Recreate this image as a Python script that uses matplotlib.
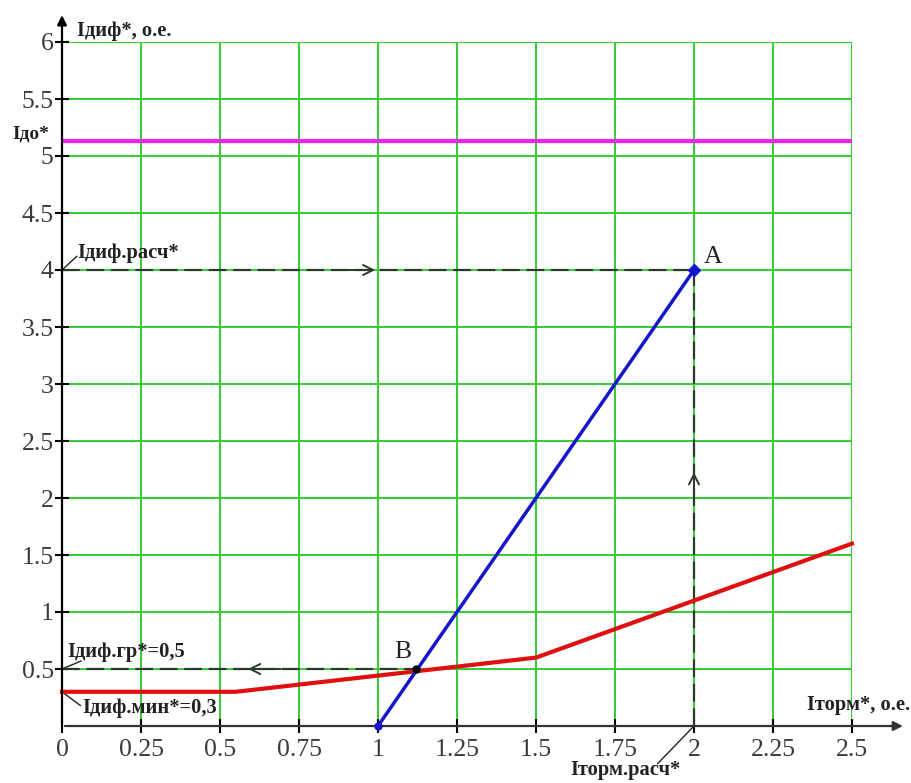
import matplotlib
matplotlib.use("Agg")
import matplotlib.pyplot as plt
import numpy as np

# ---- data ----
red_x = [0.0, 0.55, 1.5, 2.5]
red_y = [0.3, 0.3, 0.6, 1.6]
blue_x = [1.0, 2.0]
blue_y = [0.0, 4.0]
ido_level = 5.13
point_A = (2.0, 4.0)
point_B = (1.12, 0.5)
x_ticks = [0, 0.25, 0.5, 0.75, 1, 1.25, 1.5, 1.75, 2, 2.25, 2.5]
x_labels = ["0", "0.25", "0.5", "0.75", "1", "1.25", "1.5", "1.75", "2", "2.25", "2.5"]
y_ticks = [0.5, 1, 1.5, 2, 2.5, 3, 3.5, 4, 4.5, 5, 5.5, 6]
y_labels = ["0.5", "1", "1.5", "2", "2.5", "3", "3.5", "4", "4.5", "5", "5.5", "6"]

serif = ["Liberation Serif", "DejaVu Serif"]

fig = plt.figure(figsize=(9.12, 7.83), dpi=100)
ax = fig.add_axes([62/912, 1-726/783, (852-62)/912, (726-42)/783])
ax.set_xlim(0, 2.5)
ax.set_ylim(0, 6)

# grid
for xv in x_ticks:
    ax.axvline(xv, color="#33cc33", lw=1.4, zorder=1)
for yv in y_ticks:
    ax.axhline(yv, color="#33cc33", lw=1.4, zorder=1)

for s in ["top", "right", "left", "bottom"]:
    ax.spines[s].set_visible(False)

ax.set_xticks(x_ticks)
ax.set_xticklabels(x_labels, fontfamily=serif, fontsize=18.5, color="#3a3a3a")
ax.set_yticks(y_ticks)
ax.set_yticklabels(y_labels, fontfamily=serif, fontsize=18.5, color="#3a3a3a")
ax.tick_params(direction="inout", length=10, width=1.5, color="black")
ax.tick_params(axis="y", pad=1)
ax.tick_params(axis="x", pad=4)

# axes with arrows
ax.annotate("", xy=(0, 6.26), xytext=(0, 0), xycoords="data",
            arrowprops=dict(arrowstyle="-|>", color="black", lw=1.6, mutation_scale=14),
            annotation_clip=False, zorder=6)
ax.annotate("", xy=(2.67, 0), xytext=(0, 0), xycoords="data",
            arrowprops=dict(arrowstyle="-|>", color="#333333", lw=1.6, mutation_scale=14),
            annotation_clip=False, zorder=6)

# magenta level
ax.plot([0, 2.5], [ido_level, ido_level], color="#ee22ee", lw=3, zorder=3)

# dashed construction lines
dcol = "#2a3a2a"
ax.plot([0, point_A[0]], [point_A[1], point_A[1]], color=dcol, lw=1.6, ls=(0, (8, 3)), zorder=3)
ax.plot([point_A[0], point_A[0]], [0, point_A[1]], color=dcol, lw=1.6, ls=(0, (8, 3)), zorder=3)
ax.plot([0, point_B[0]], [point_B[1], point_B[1]], color=dcol, lw=1.6, ls=(0, (8, 3)), zorder=3)
arr = dict(arrowstyle="->", color=dcol, lw=1.4, mutation_scale=18)
ax.annotate("", xy=(1.0, 4.0), xytext=(0.9, 4.0), arrowprops=arr)
ax.annotate("", xy=(2.0, 2.25), xytext=(2.0, 2.0), arrowprops=arr)
ax.annotate("", xy=(0.58, 0.5), xytext=(0.7, 0.5), arrowprops=arr)

# red and blue characteristics
ax.plot(red_x, red_y, color="#e01010", lw=3, zorder=4, clip_on=False)
ax.plot(blue_x, blue_y, color="#1515cc", lw=2.5, zorder=5, clip_on=False)
ax.plot([blue_x[0]], [blue_y[0]], "o", color="#1515cc", ms=5, zorder=6, clip_on=False)
ax.plot([point_A[0]], [point_A[1]], "D", color="#1515cc", ms=6, zorder=6)
ax.plot([point_B[0]], [point_B[1]], "o", color="black", ms=5, zorder=6)

# labels
lab = dict(fontfamily=serif, fontsize=14.8, fontweight="bold", color="#222222")
ax.text(0.047, 6.1, "Iдиф*, о.е.", ha="left", va="center", clip_on=False, **lab)
ax.text(-0.158, 5.19, "Iдо*", ha="left", va="center", clip_on=False,
        fontfamily=serif, fontsize=14, fontweight="bold", color="#222222")
ax.text(0.047, 4.15, "Iдиф.расч*", ha="left", va="center", **lab)
ax.plot([0, 0.047], [4.0, 4.12], color="#222222", lw=1)
ax.text(0.016, 0.65, "Iдиф.гр*=0,5", ha="left", va="center", **lab)
ax.plot([0, 0.06], [0.5, 0.57], color="#222222", lw=1)
ax.text(0.063, 0.16, "Iдиф.мин*=0,3", ha="left", va="center", **lab)
ax.plot([0, 0.058], [0.3, 0.18], color="#222222", lw=1)
ax.text(2.357, 0.18, "Iторм*, о.е.", ha="left", va="center", clip_on=False, **lab)
ax.text(1.608, -0.386, "Iторм.расч*", ha="left", va="center", clip_on=False, **lab)
ax.plot([2.0, 1.885], [0.0, -0.33], color="#222222", lw=1, clip_on=False)
ax.text(2.06, 4.11, "A", ha="center", va="center", fontfamily=serif, fontsize=18.5, color="#222222")
ax.text(1.08, 0.65, "B", ha="center", va="center", fontfamily=serif, fontsize=18.5, color="#222222")

fig.savefig("out.png", dpi=100)
